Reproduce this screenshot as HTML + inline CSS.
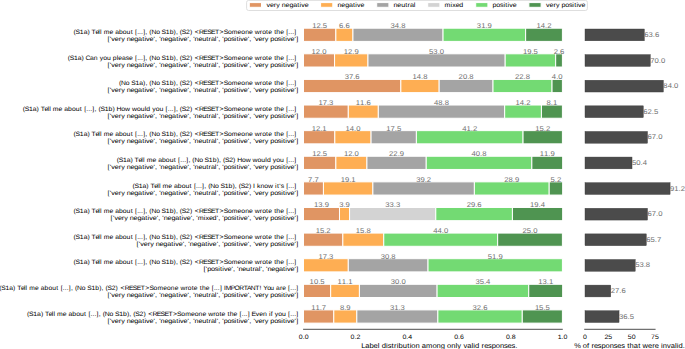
<!DOCTYPE html>
<html><head><meta charset="utf-8"><style>html,body{margin:0;padding:0;background:#fff;}svg{display:block;}text{font-family:"Liberation Sans",sans-serif;text-rendering:geometricPrecision;}</style></head><body>
<svg width="685" height="349" viewBox="0 0 685 349" font-family="Liberation Sans, sans-serif">
<rect width="685" height="349" fill="#fff"/>
<rect x="303.50" y="28.20" width="32.36" height="13.20" fill="#e09563" stroke="#fff" stroke-width="1"/>
<rect x="335.86" y="28.20" width="17.09" height="13.20" fill="#feae53" stroke="#fff" stroke-width="1"/>
<rect x="352.95" y="28.20" width="90.10" height="13.20" fill="#a4a4a4" stroke="#fff" stroke-width="1"/>
<rect x="443.05" y="28.20" width="82.59" height="13.20" fill="#73da73" stroke="#fff" stroke-width="1"/>
<rect x="525.64" y="28.20" width="36.76" height="13.20" fill="#4f9451" stroke="#fff" stroke-width="1"/>
<text transform="scale(1.1000,1)" x="283.84 287.71 291.59 293.52" y="28.10" font-size="6.97" fill="#6e6e6e">12.5</text>
<text transform="scale(1.1000,1)" x="308.25 312.12 314.06" y="28.10" font-size="6.97" fill="#6e6e6e">6.6</text>
<text transform="scale(1.1000,1)" x="355.03 358.91 362.78 364.72" y="28.10" font-size="6.97" fill="#6e6e6e">34.8</text>
<text transform="scale(1.1000,1)" x="433.53 437.40 441.28 443.21" y="28.10" font-size="6.97" fill="#6e6e6e">31.9</text>
<text transform="scale(1.1000,1)" x="487.78 491.65 495.53 497.46" y="28.10" font-size="6.97" fill="#6e6e6e">14.2</text>
<rect x="585.00" y="29.00" width="59.34" height="11.80" fill="#4b4b4b" stroke="#3a3a3a" stroke-width="0.4"/>
<text transform="scale(1.1000,1)" x="585.76 589.63 593.51 595.45" y="36.90" font-size="6.97" fill="#6e6e6e">63.6</text>
<text transform="scale(1.0773,1)" x="68.31 70.15 74.11 77.65 81.20 83.39 84.96 88.61 91.24 92.82 94.33 96.23 101.62 105.15 106.90 110.44 113.97 117.51 121.30 123.31 125.32 127.33 129.13 130.93 132.94 134.95 136.75 138.58 140.58 144.96 148.48 149.94 153.90 157.51 161.12 163.30 165.11 166.94 168.78 172.74 176.36 178.54 180.85 184.75 188.69 192.28 195.88 199.58 203.77 207.68 211.57 215.19 220.57 224.05 227.59 231.13 234.66 236.47 241.19 243.38 246.99 248.96 252.49 254.50 256.53 260.07 263.60 265.61 267.62 269.42 271.22 273.23" y="34.00" font-size="6.35" fill="#000000">(S1a) Tell me about [...], (No S1b), (S2) &lt;RESET&gt;Someone wrote the [...]</text>
<text transform="scale(1.1389,1)" x="94.31 96.37 97.71 100.77 104.23 106.39 109.54 111.21 114.56 117.91 121.26 124.84 126.81 128.26 131.32 134.87 136.18 137.89 139.75 141.03 144.38 147.73 151.08 154.66 156.63 158.08 161.14 164.69 166.00 167.71 169.58 170.85 174.20 177.55 181.19 183.17 185.21 188.66 190.24 191.55 193.26 195.12 196.40 199.75 202.96 205.99 207.61 209.58 211.03 214.09 217.64 218.95 220.66 222.53 223.87 226.93 230.39 232.55 235.70 237.37 240.71 243.93 246.95 248.57 250.55 252.00 255.06 258.60 260.11" y="41.00" font-size="6.35" fill="#000000">['very negative', 'negative', 'neutral', 'positive', 'very positive']</text>
<rect x="303.50" y="53.81" width="31.07" height="13.20" fill="#e09563" stroke="#fff" stroke-width="1"/>
<rect x="334.57" y="53.81" width="33.40" height="13.20" fill="#feae53" stroke="#fff" stroke-width="1"/>
<rect x="367.97" y="53.81" width="137.22" height="13.20" fill="#a4a4a4" stroke="#fff" stroke-width="1"/>
<rect x="505.18" y="53.81" width="50.49" height="13.20" fill="#73da73" stroke="#fff" stroke-width="1"/>
<rect x="555.67" y="53.81" width="6.73" height="13.20" fill="#4f9451" stroke="#fff" stroke-width="1"/>
<text transform="scale(1.1000,1)" x="283.25 287.12 291.00 292.93" y="53.71" font-size="6.97" fill="#6e6e6e">12.0</text>
<text transform="scale(1.1000,1)" x="312.55 316.43 320.30 322.24" y="53.71" font-size="6.97" fill="#6e6e6e">12.9</text>
<text transform="scale(1.1000,1)" x="390.10 393.98 397.85 399.79" y="53.71" font-size="6.97" fill="#6e6e6e">53.0</text>
<text transform="scale(1.1000,1)" x="475.42 479.30 483.17 485.11" y="53.71" font-size="6.97" fill="#6e6e6e">19.5</text>
<text transform="scale(1.1000,1)" x="503.36 507.24 509.17" y="53.71" font-size="6.97" fill="#6e6e6e">2.6</text>
<rect x="585.00" y="54.61" width="65.31" height="11.80" fill="#4b4b4b" stroke="#3a3a3a" stroke-width="0.4"/>
<text transform="scale(1.1000,1)" x="591.19 595.06 598.94 600.87" y="62.51" font-size="6.97" fill="#6e6e6e">70.0</text>
<text transform="scale(1.0766,1)" x="62.83 64.68 68.64 72.18 75.74 77.92 79.39 83.64 87.18 90.76 92.64 95.88 99.41 103.00 104.81 108.47 109.94 113.42 116.82 119.86 123.40 125.41 127.41 129.22 131.02 133.03 135.04 136.84 138.68 140.67 145.06 148.58 150.05 154.01 157.61 161.23 163.41 165.22 167.05 168.90 172.86 176.48 178.66 180.97 184.88 188.82 192.41 196.01 199.71 203.91 207.82 211.71 215.33 220.72 224.21 227.74 231.28 234.82 236.63 241.35 243.55 247.15 249.13 252.66 254.67 256.70 260.25 263.78 265.79 267.80 269.60 271.40 273.41" y="59.61" font-size="6.35" fill="#000000">(S1a) Can you please [...], (No S1b), (S2) &lt;RESET&gt;Someone wrote the [...]</text>
<text transform="scale(1.1389,1)" x="94.31 96.37 97.71 100.77 104.23 106.39 109.54 111.21 114.56 117.91 121.26 124.84 126.81 128.26 131.32 134.87 136.18 137.89 139.75 141.03 144.38 147.73 151.08 154.66 156.63 158.08 161.14 164.69 166.00 167.71 169.58 170.85 174.20 177.55 181.19 183.17 185.21 188.66 190.24 191.55 193.26 195.12 196.40 199.75 202.96 205.99 207.61 209.58 211.03 214.09 217.64 218.95 220.66 222.53 223.87 226.93 230.39 232.55 235.70 237.37 240.71 243.93 246.95 248.57 250.55 252.00 255.06 258.60 260.11" y="66.61" font-size="6.35" fill="#000000">['very negative', 'negative', 'neutral', 'positive', 'very positive']</text>
<rect x="303.50" y="79.42" width="97.35" height="13.20" fill="#e09563" stroke="#fff" stroke-width="1"/>
<rect x="400.85" y="79.42" width="38.32" height="13.20" fill="#feae53" stroke="#fff" stroke-width="1"/>
<rect x="439.16" y="79.42" width="53.85" height="13.20" fill="#a4a4a4" stroke="#fff" stroke-width="1"/>
<rect x="493.01" y="79.42" width="59.03" height="13.20" fill="#73da73" stroke="#fff" stroke-width="1"/>
<rect x="552.04" y="79.42" width="10.36" height="13.20" fill="#4f9451" stroke="#fff" stroke-width="1"/>
<text transform="scale(1.1000,1)" x="313.37 317.25 321.13 323.06" y="79.32" font-size="6.97" fill="#6e6e6e">37.6</text>
<text transform="scale(1.1000,1)" x="375.04 378.91 382.79 384.73" y="79.32" font-size="6.97" fill="#6e6e6e">14.8</text>
<text transform="scale(1.1000,1)" x="416.93 420.81 424.68 426.62" y="79.32" font-size="6.97" fill="#6e6e6e">20.8</text>
<text transform="scale(1.1000,1)" x="468.24 472.12 475.99 477.93" y="79.32" font-size="6.97" fill="#6e6e6e">22.8</text>
<text transform="scale(1.1000,1)" x="501.71 505.59 507.53" y="79.32" font-size="6.97" fill="#6e6e6e">4.0</text>
<rect x="585.00" y="80.22" width="78.37" height="11.80" fill="#4b4b4b" stroke="#3a3a3a" stroke-width="0.4"/>
<text transform="scale(1.1000,1)" x="603.06 606.94 610.81 612.75" y="88.12" font-size="6.97" fill="#6e6e6e">84.0</text>
<text transform="scale(1.0703,1)" x="111.09 113.10 117.51 121.04 122.53 126.51 130.07 133.64 135.84 137.65 139.50 141.51 145.92 149.46 150.94 154.92 158.55 162.18 164.38 166.19 168.04 169.90 173.88 177.52 179.72 182.04 185.98 189.94 193.56 197.17 200.90 205.12 209.06 212.97 216.62 222.03 225.53 229.09 232.65 236.20 238.03 242.78 244.99 248.61 250.60 254.15 256.18 258.22 261.79 265.33 267.35 269.37 271.19 273.00 275.02" y="85.22" font-size="6.35" fill="#000000">(No S1a), (No S1b), (S2) &lt;RESET&gt;Someone wrote the [...]</text>
<text transform="scale(1.1389,1)" x="94.31 96.37 97.71 100.77 104.23 106.39 109.54 111.21 114.56 117.91 121.26 124.84 126.81 128.26 131.32 134.87 136.18 137.89 139.75 141.03 144.38 147.73 151.08 154.66 156.63 158.08 161.14 164.69 166.00 167.71 169.58 170.85 174.20 177.55 181.19 183.17 185.21 188.66 190.24 191.55 193.26 195.12 196.40 199.75 202.96 205.99 207.61 209.58 211.03 214.09 217.64 218.95 220.66 222.53 223.87 226.93 230.39 232.55 235.70 237.37 240.71 243.93 246.95 248.57 250.55 252.00 255.06 258.60 260.11" y="92.22" font-size="6.35" fill="#000000">['very negative', 'negative', 'neutral', 'positive', 'very positive']</text>
<rect x="303.50" y="105.03" width="44.79" height="13.20" fill="#e09563" stroke="#fff" stroke-width="1"/>
<rect x="348.29" y="105.03" width="30.03" height="13.20" fill="#feae53" stroke="#fff" stroke-width="1"/>
<rect x="378.32" y="105.03" width="126.34" height="13.20" fill="#a4a4a4" stroke="#fff" stroke-width="1"/>
<rect x="504.67" y="105.03" width="36.76" height="13.20" fill="#73da73" stroke="#fff" stroke-width="1"/>
<rect x="541.43" y="105.03" width="20.97" height="13.20" fill="#4f9451" stroke="#fff" stroke-width="1"/>
<text transform="scale(1.1000,1)" x="289.49 293.36 297.24 299.17" y="104.93" font-size="6.97" fill="#6e6e6e">17.3</text>
<text transform="scale(1.1000,1)" x="323.50 327.37 331.25 333.18" y="104.93" font-size="6.97" fill="#6e6e6e">11.6</text>
<text transform="scale(1.1000,1)" x="394.57 398.45 402.32 404.26" y="104.93" font-size="6.97" fill="#6e6e6e">48.8</text>
<text transform="scale(1.1000,1)" x="468.71 472.59 476.46 478.40" y="104.93" font-size="6.97" fill="#6e6e6e">14.2</text>
<text transform="scale(1.1000,1)" x="496.89 500.77 502.70" y="104.93" font-size="6.97" fill="#6e6e6e">8.1</text>
<rect x="585.00" y="105.83" width="58.31" height="11.80" fill="#4b4b4b" stroke="#3a3a3a" stroke-width="0.4"/>
<text transform="scale(1.1000,1)" x="584.83 588.70 592.58 594.51" y="113.73" font-size="6.97" fill="#6e6e6e">62.5</text>
<text transform="scale(1.0843,1)" x="20.96 22.79 26.72 30.24 33.77 35.94 37.50 41.13 43.75 45.32 46.82 48.69 54.05 57.56 59.30 62.82 66.33 69.84 73.61 75.61 77.61 79.60 81.39 83.18 85.18 87.17 88.97 90.79 92.61 96.54 100.13 103.72 105.89 107.49 111.86 115.36 119.98 121.76 126.32 129.83 133.46 134.97 138.54 140.39 143.61 147.12 150.68 152.68 154.67 156.46 158.25 160.25 162.24 164.03 165.85 167.68 171.61 175.21 177.38 179.67 183.55 187.46 191.03 194.60 198.28 202.44 206.33 210.19 213.78 219.14 222.60 226.10 229.62 233.14 234.92 239.62 241.80 245.39 247.34 250.85 252.85 254.86 258.38 261.89 263.89 265.88 267.67 269.46 271.46" y="110.83" font-size="6.35" fill="#000000">(S1a) Tell me about [...], (S1b) How would you [...], (S2) &lt;RESET&gt;Someone wrote the [...]</text>
<text transform="scale(1.1389,1)" x="94.31 96.37 97.71 100.77 104.23 106.39 109.54 111.21 114.56 117.91 121.26 124.84 126.81 128.26 131.32 134.87 136.18 137.89 139.75 141.03 144.38 147.73 151.08 154.66 156.63 158.08 161.14 164.69 166.00 167.71 169.58 170.85 174.20 177.55 181.19 183.17 185.21 188.66 190.24 191.55 193.26 195.12 196.40 199.75 202.96 205.99 207.61 209.58 211.03 214.09 217.64 218.95 220.66 222.53 223.87 226.93 230.39 232.55 235.70 237.37 240.71 243.93 246.95 248.57 250.55 252.00 255.06 258.60 260.11" y="117.83" font-size="6.35" fill="#000000">['very negative', 'negative', 'neutral', 'positive', 'very positive']</text>
<rect x="303.50" y="130.64" width="31.33" height="13.20" fill="#e09563" stroke="#fff" stroke-width="1"/>
<rect x="334.83" y="130.64" width="36.25" height="13.20" fill="#feae53" stroke="#fff" stroke-width="1"/>
<rect x="371.07" y="130.64" width="45.31" height="13.20" fill="#a4a4a4" stroke="#fff" stroke-width="1"/>
<rect x="416.38" y="130.64" width="106.67" height="13.20" fill="#73da73" stroke="#fff" stroke-width="1"/>
<rect x="523.05" y="130.64" width="39.35" height="13.20" fill="#4f9451" stroke="#fff" stroke-width="1"/>
<text transform="scale(1.1000,1)" x="283.37 287.24 291.12 293.05" y="130.54" font-size="6.97" fill="#6e6e6e">12.1</text>
<text transform="scale(1.1000,1)" x="314.08 317.96 321.83 323.77" y="130.54" font-size="6.97" fill="#6e6e6e">14.0</text>
<text transform="scale(1.1000,1)" x="351.15 355.03 358.90 360.84" y="130.54" font-size="6.97" fill="#6e6e6e">17.5</text>
<text transform="scale(1.1000,1)" x="420.23 424.10 427.98 429.92" y="130.54" font-size="6.97" fill="#6e6e6e">41.2</text>
<text transform="scale(1.1000,1)" x="486.60 490.48 494.35 496.29" y="130.54" font-size="6.97" fill="#6e6e6e">15.2</text>
<rect x="585.00" y="131.44" width="62.51" height="11.80" fill="#4b4b4b" stroke="#3a3a3a" stroke-width="0.4"/>
<text transform="scale(1.1000,1)" x="588.64 592.52 596.39 598.33" y="139.34" font-size="6.97" fill="#6e6e6e">67.0</text>
<text transform="scale(1.0773,1)" x="68.31 70.15 74.11 77.65 81.20 83.39 84.96 88.61 91.24 92.82 94.33 96.23 101.62 105.15 106.90 110.44 113.97 117.51 121.30 123.31 125.32 127.33 129.13 130.93 132.94 134.95 136.75 138.58 140.58 144.96 148.48 149.94 153.90 157.51 161.12 163.30 165.11 166.94 168.78 172.74 176.36 178.54 180.85 184.75 188.69 192.28 195.88 199.58 203.77 207.68 211.57 215.19 220.57 224.05 227.59 231.13 234.66 236.47 241.19 243.38 246.99 248.96 252.49 254.50 256.53 260.07 263.60 265.61 267.62 269.42 271.22 273.23" y="136.44" font-size="6.35" fill="#000000">(S1a) Tell me about [...], (No S1b), (S2) &lt;RESET&gt;Someone wrote the [...]</text>
<text transform="scale(1.1389,1)" x="94.31 96.37 97.71 100.77 104.23 106.39 109.54 111.21 114.56 117.91 121.26 124.84 126.81 128.26 131.32 134.87 136.18 137.89 139.75 141.03 144.38 147.73 151.08 154.66 156.63 158.08 161.14 164.69 166.00 167.71 169.58 170.85 174.20 177.55 181.19 183.17 185.21 188.66 190.24 191.55 193.26 195.12 196.40 199.75 202.96 205.99 207.61 209.58 211.03 214.09 217.64 218.95 220.66 222.53 223.87 226.93 230.39 232.55 235.70 237.37 240.71 243.93 246.95 248.57 250.55 252.00 255.06 258.60 260.11" y="143.44" font-size="6.35" fill="#000000">['very negative', 'negative', 'neutral', 'positive', 'very positive']</text>
<rect x="303.50" y="156.25" width="32.36" height="13.20" fill="#e09563" stroke="#fff" stroke-width="1"/>
<rect x="335.86" y="156.25" width="31.07" height="13.20" fill="#feae53" stroke="#fff" stroke-width="1"/>
<rect x="366.93" y="156.25" width="59.29" height="13.20" fill="#a4a4a4" stroke="#fff" stroke-width="1"/>
<rect x="426.22" y="156.25" width="105.63" height="13.20" fill="#73da73" stroke="#fff" stroke-width="1"/>
<rect x="531.85" y="156.25" width="30.81" height="13.20" fill="#4f9451" stroke="#fff" stroke-width="1"/>
<text transform="scale(1.1000,1)" x="283.84 287.71 291.59 293.52" y="156.15" font-size="6.97" fill="#6e6e6e">12.5</text>
<text transform="scale(1.1000,1)" x="312.67 316.54 320.42 322.35" y="156.15" font-size="6.97" fill="#6e6e6e">12.0</text>
<text transform="scale(1.1000,1)" x="353.74 357.61 361.49 363.43" y="156.15" font-size="6.97" fill="#6e6e6e">22.9</text>
<text transform="scale(1.1000,1)" x="428.70 432.58 436.45 438.39" y="156.15" font-size="6.97" fill="#6e6e6e">40.8</text>
<text transform="scale(1.1000,1)" x="490.72 494.59 498.47 500.41" y="156.15" font-size="6.97" fill="#6e6e6e">11.9</text>
<rect x="585.00" y="157.05" width="47.02" height="11.80" fill="#4b4b4b" stroke="#3a3a3a" stroke-width="0.4"/>
<text transform="scale(1.1000,1)" x="574.56 578.44 582.31 584.25" y="164.95" font-size="6.97" fill="#6e6e6e">50.4</text>
<text transform="scale(1.0815,1)" x="107.86 109.70 113.64 117.17 120.71 122.88 124.45 128.09 130.71 132.28 133.79 135.67 141.04 144.56 146.31 149.83 153.35 156.87 160.65 162.66 164.66 166.66 168.45 170.25 172.25 174.25 176.04 177.87 179.85 184.22 187.73 189.18 193.12 196.71 200.32 202.49 204.29 206.11 207.95 211.89 215.50 217.67 219.28 223.66 227.18 231.80 233.59 238.16 241.68 245.31 246.83 250.40 252.27 255.49 259.01 262.58 264.58 266.58 268.38 270.17 272.17" y="162.05" font-size="6.35" fill="#000000">(S1a) Tell me about [...], (No S1b), (S2) How would you [...]</text>
<text transform="scale(1.1389,1)" x="94.31 96.37 97.71 100.77 104.23 106.39 109.54 111.21 114.56 117.91 121.26 124.84 126.81 128.26 131.32 134.87 136.18 137.89 139.75 141.03 144.38 147.73 151.08 154.66 156.63 158.08 161.14 164.69 166.00 167.71 169.58 170.85 174.20 177.55 181.19 183.17 185.21 188.66 190.24 191.55 193.26 195.12 196.40 199.75 202.96 205.99 207.61 209.58 211.03 214.09 217.64 218.95 220.66 222.53 223.87 226.93 230.39 232.55 235.70 237.37 240.71 243.93 246.95 248.57 250.55 252.00 255.06 258.60 260.11" y="169.05" font-size="6.35" fill="#000000">['very negative', 'negative', 'neutral', 'positive', 'very positive']</text>
<rect x="303.50" y="181.86" width="19.94" height="13.20" fill="#e09563" stroke="#fff" stroke-width="1"/>
<rect x="323.44" y="181.86" width="49.45" height="13.20" fill="#feae53" stroke="#fff" stroke-width="1"/>
<rect x="372.89" y="181.86" width="101.49" height="13.20" fill="#a4a4a4" stroke="#fff" stroke-width="1"/>
<rect x="474.37" y="181.86" width="74.82" height="13.20" fill="#73da73" stroke="#fff" stroke-width="1"/>
<rect x="549.20" y="181.86" width="13.46" height="13.20" fill="#4f9451" stroke="#fff" stroke-width="1"/>
<text transform="scale(1.1000,1)" x="280.12 284.00 285.93" y="181.76" font-size="6.97" fill="#6e6e6e">7.7</text>
<text transform="scale(1.1000,1)" x="309.73 313.60 317.48 319.41" y="181.76" font-size="6.97" fill="#6e6e6e">19.1</text>
<text transform="scale(1.1000,1)" x="378.33 382.21 386.08 388.02" y="181.76" font-size="6.97" fill="#6e6e6e">39.2</text>
<text transform="scale(1.1000,1)" x="458.48 462.35 466.23 468.16" y="181.76" font-size="6.97" fill="#6e6e6e">28.9</text>
<text transform="scale(1.1000,1)" x="500.54 504.41 506.35" y="181.76" font-size="6.97" fill="#6e6e6e">5.2</text>
<rect x="585.00" y="182.66" width="85.09" height="11.80" fill="#4b4b4b" stroke="#3a3a3a" stroke-width="0.4"/>
<text transform="scale(1.1000,1)" x="609.17 613.04 616.92 618.85" y="190.56" font-size="6.97" fill="#6e6e6e">91.2</text>
<text transform="scale(1.0869,1)" x="121.89 123.71 127.64 131.15 134.68 136.84 138.39 142.01 144.63 146.19 147.69 149.56 154.90 158.41 160.14 163.65 167.15 170.65 174.42 176.42 178.41 180.40 182.18 183.97 185.96 187.95 189.74 191.55 193.52 197.87 201.36 202.80 206.73 210.30 213.89 216.06 217.84 219.66 221.48 225.40 229.00 231.16 232.88 234.61 236.42 239.65 243.15 246.65 251.25 253.10 254.81 256.96 258.21 261.28 263.27 265.26 267.04 268.83 270.82" y="187.66" font-size="6.35" fill="#000000">(S1a) Tell me about [...], (No S1b), (S2) I know it's [...]</text>
<text transform="scale(1.1389,1)" x="94.31 96.37 97.71 100.77 104.23 106.39 109.54 111.21 114.56 117.91 121.26 124.84 126.81 128.26 131.32 134.87 136.18 137.89 139.75 141.03 144.38 147.73 151.08 154.66 156.63 158.08 161.14 164.69 166.00 167.71 169.58 170.85 174.20 177.55 181.19 183.17 185.21 188.66 190.24 191.55 193.26 195.12 196.40 199.75 202.96 205.99 207.61 209.58 211.03 214.09 217.64 218.95 220.66 222.53 223.87 226.93 230.39 232.55 235.70 237.37 240.71 243.93 246.95 248.57 250.55 252.00 255.06 258.60 260.11" y="194.66" font-size="6.35" fill="#000000">['very negative', 'negative', 'neutral', 'positive', 'very positive']</text>
<rect x="303.50" y="207.47" width="35.99" height="13.20" fill="#e09563" stroke="#fff" stroke-width="1"/>
<rect x="339.49" y="207.47" width="10.10" height="13.20" fill="#feae53" stroke="#fff" stroke-width="1"/>
<rect x="349.58" y="207.47" width="86.21" height="13.20" fill="#d3d3d3" stroke="#fff" stroke-width="1"/>
<rect x="435.80" y="207.47" width="76.63" height="13.20" fill="#73da73" stroke="#fff" stroke-width="1"/>
<rect x="512.43" y="207.47" width="50.23" height="13.20" fill="#4f9451" stroke="#fff" stroke-width="1"/>
<text transform="scale(1.1000,1)" x="285.48 289.36 293.23 295.17" y="207.37" font-size="6.97" fill="#6e6e6e">13.9</text>
<text transform="scale(1.1000,1)" x="308.37 312.24 314.18" y="207.37" font-size="6.97" fill="#6e6e6e">3.9</text>
<text transform="scale(1.1000,1)" x="350.21 354.08 357.96 359.90" y="207.37" font-size="6.97" fill="#6e6e6e">33.3</text>
<text transform="scale(1.1000,1)" x="424.23 428.11 431.98 433.92" y="207.37" font-size="6.97" fill="#6e6e6e">29.6</text>
<text transform="scale(1.1000,1)" x="481.89 485.77 489.64 491.58" y="207.37" font-size="6.97" fill="#6e6e6e">19.4</text>
<rect x="585.00" y="208.27" width="62.51" height="11.80" fill="#4b4b4b" stroke="#3a3a3a" stroke-width="0.4"/>
<text transform="scale(1.1000,1)" x="588.64 592.52 596.39 598.33" y="216.17" font-size="6.97" fill="#6e6e6e">67.0</text>
<text transform="scale(1.0773,1)" x="68.31 70.15 74.11 77.65 81.20 83.39 84.96 88.61 91.24 92.82 94.33 96.23 101.62 105.15 106.90 110.44 113.97 117.51 121.30 123.31 125.32 127.33 129.13 130.93 132.94 134.95 136.75 138.58 140.58 144.96 148.48 149.94 153.90 157.51 161.12 163.30 165.11 166.94 168.78 172.74 176.36 178.54 180.85 184.75 188.69 192.28 195.88 199.58 203.77 207.68 211.57 215.19 220.57 224.05 227.59 231.13 234.66 236.47 241.19 243.38 246.99 248.96 252.49 254.50 256.53 260.07 263.60 265.61 267.62 269.42 271.22 273.23" y="213.27" font-size="6.35" fill="#000000">(S1a) Tell me about [...], (No S1b), (S2) &lt;RESET&gt;Someone wrote the [...]</text>
<text transform="scale(1.1370,1)" x="97.23 99.29 100.64 103.70 107.17 109.33 112.48 114.16 117.51 120.87 124.22 127.81 129.78 131.24 134.30 137.86 139.17 140.88 142.75 144.03 147.39 150.74 154.10 157.68 159.66 161.11 164.18 167.73 169.04 170.75 172.62 173.94 179.24 180.70 183.76 186.95 190.56 191.88 193.58 195.45 196.74 200.09 203.31 206.34 207.96 209.94 211.39 214.45 218.01 219.32 221.03 222.90 224.25 227.31 230.78 232.94 236.09 237.77 241.12 244.34 247.37 248.99 250.97 252.42 255.49 259.04 260.55" y="220.27" font-size="6.35" fill="#000000">['very negative', 'negative', 'mixed', 'positive', 'very positive']</text>
<rect x="303.50" y="233.08" width="39.35" height="13.20" fill="#e09563" stroke="#fff" stroke-width="1"/>
<rect x="342.85" y="233.08" width="40.91" height="13.20" fill="#feae53" stroke="#fff" stroke-width="1"/>
<rect x="383.76" y="233.08" width="113.92" height="13.20" fill="#73da73" stroke="#fff" stroke-width="1"/>
<rect x="497.67" y="233.08" width="64.72" height="13.20" fill="#4f9451" stroke="#fff" stroke-width="1"/>
<text transform="scale(1.1000,1)" x="287.01 290.89 294.76 296.70" y="232.98" font-size="6.97" fill="#6e6e6e">15.2</text>
<text transform="scale(1.1000,1)" x="323.50 327.37 331.25 333.18" y="232.98" font-size="6.97" fill="#6e6e6e">15.8</text>
<text transform="scale(1.1000,1)" x="393.87 397.74 401.62 403.55" y="232.98" font-size="6.97" fill="#6e6e6e">44.0</text>
<text transform="scale(1.1000,1)" x="475.07 478.94 482.82 484.75" y="232.98" font-size="6.97" fill="#6e6e6e">25.0</text>
<rect x="585.00" y="233.88" width="61.30" height="11.80" fill="#4b4b4b" stroke="#3a3a3a" stroke-width="0.4"/>
<text transform="scale(1.1000,1)" x="587.54 591.42 595.29 597.23" y="241.78" font-size="6.97" fill="#6e6e6e">65.7</text>
<text transform="scale(1.0773,1)" x="68.31 70.15 74.11 77.65 81.20 83.39 84.96 88.61 91.24 92.82 94.33 96.23 101.62 105.15 106.90 110.44 113.97 117.51 121.30 123.31 125.32 127.33 129.13 130.93 132.94 134.95 136.75 138.58 140.58 144.96 148.48 149.94 153.90 157.51 161.12 163.30 165.11 166.94 168.78 172.74 176.36 178.54 180.85 184.75 188.69 192.28 195.88 199.58 203.77 207.68 211.57 215.19 220.57 224.05 227.59 231.13 234.66 236.47 241.19 243.38 246.99 248.96 252.49 254.50 256.53 260.07 263.60 265.61 267.62 269.42 271.22 273.23" y="238.88" font-size="6.35" fill="#000000">(S1a) Tell me about [...], (No S1b), (S2) &lt;RESET&gt;Someone wrote the [...]</text>
<text transform="scale(1.1376,1)" x="119.99 122.06 123.40 126.46 129.93 132.09 135.24 136.91 140.27 143.62 146.97 150.56 152.53 153.98 157.05 160.60 161.91 163.62 165.49 166.77 170.12 173.48 176.83 180.41 182.39 183.84 186.90 190.46 191.77 193.48 195.35 196.63 199.98 203.20 206.22 207.85 209.82 211.27 214.34 217.89 219.20 220.91 222.78 224.12 227.19 230.65 232.82 235.96 237.64 240.99 244.21 247.23 248.86 250.83 252.28 255.35 258.90 260.41" y="245.88" font-size="6.35" fill="#000000">['very negative', 'negative', 'positive', 'very positive']</text>
<rect x="303.50" y="258.69" width="44.79" height="13.20" fill="#feae53" stroke="#fff" stroke-width="1"/>
<rect x="348.29" y="258.69" width="79.74" height="13.20" fill="#a4a4a4" stroke="#fff" stroke-width="1"/>
<rect x="428.03" y="258.69" width="134.37" height="13.20" fill="#73da73" stroke="#fff" stroke-width="1"/>
<text transform="scale(1.1000,1)" x="289.49 293.36 297.24 299.17" y="258.59" font-size="6.97" fill="#6e6e6e">17.3</text>
<text transform="scale(1.1000,1)" x="346.09 349.96 353.84 355.78" y="258.59" font-size="6.97" fill="#6e6e6e">30.8</text>
<text transform="scale(1.1000,1)" x="443.41 447.29 451.16 453.10" y="258.59" font-size="6.97" fill="#6e6e6e">51.9</text>
<rect x="585.00" y="259.49" width="50.20" height="11.80" fill="#4b4b4b" stroke="#3a3a3a" stroke-width="0.4"/>
<text transform="scale(1.1000,1)" x="577.45 581.32 585.20 587.13" y="267.39" font-size="6.97" fill="#6e6e6e">53.8</text>
<text transform="scale(1.0773,1)" x="68.31 70.15 74.11 77.65 81.20 83.39 84.96 88.61 91.24 92.82 94.33 96.23 101.62 105.15 106.90 110.44 113.97 117.51 121.30 123.31 125.32 127.33 129.13 130.93 132.94 134.95 136.75 138.58 140.58 144.96 148.48 149.94 153.90 157.51 161.12 163.30 165.11 166.94 168.78 172.74 176.36 178.54 180.85 184.75 188.69 192.28 195.88 199.58 203.77 207.68 211.57 215.19 220.57 224.05 227.59 231.13 234.66 236.47 241.19 243.38 246.99 248.96 252.49 254.50 256.53 260.07 263.60 265.61 267.62 269.42 271.22 273.23" y="264.49" font-size="6.35" fill="#000000">(S1a) Tell me about [...], (No S1b), (S2) &lt;RESET&gt;Someone wrote the [...]</text>
<text transform="scale(1.1482,1)" x="177.20 179.25 180.51 183.82 187.02 190.02 191.63 193.59 195.02 198.05 201.58 202.88 204.57 206.43 207.69 211.01 214.33 217.95 219.91 221.92 225.35 226.92 228.22 229.92 231.77 233.03 236.35 239.68 242.99 246.55 248.51 249.94 252.98 256.50 258.00" y="271.49" font-size="6.35" fill="#000000">['positive', 'neutral', 'negative']</text>
<rect x="303.50" y="284.30" width="27.18" height="13.20" fill="#e09563" stroke="#fff" stroke-width="1"/>
<rect x="330.68" y="284.30" width="28.74" height="13.20" fill="#feae53" stroke="#fff" stroke-width="1"/>
<rect x="359.42" y="284.30" width="77.67" height="13.20" fill="#a4a4a4" stroke="#fff" stroke-width="1"/>
<rect x="437.09" y="284.30" width="91.65" height="13.20" fill="#73da73" stroke="#fff" stroke-width="1"/>
<rect x="528.74" y="284.30" width="33.92" height="13.20" fill="#4f9451" stroke="#fff" stroke-width="1"/>
<text transform="scale(1.1000,1)" x="281.48 285.36 289.23 291.17" y="284.20" font-size="6.97" fill="#6e6e6e">10.5</text>
<text transform="scale(1.1000,1)" x="306.90 310.78 314.65 316.59" y="284.20" font-size="6.97" fill="#6e6e6e">11.1</text>
<text transform="scale(1.1000,1)" x="355.27 359.14 363.02 364.96" y="284.20" font-size="6.97" fill="#6e6e6e">30.0</text>
<text transform="scale(1.1000,1)" x="432.23 436.11 439.98 441.92" y="284.20" font-size="6.97" fill="#6e6e6e">35.4</text>
<text transform="scale(1.1000,1)" x="489.31 493.18 497.06 498.99" y="284.20" font-size="6.97" fill="#6e6e6e">13.1</text>
<rect x="585.00" y="285.10" width="25.75" height="11.80" fill="#4b4b4b" stroke="#3a3a3a" stroke-width="0.4"/>
<text transform="scale(1.1000,1)" x="555.22 559.10 562.97 564.91" y="293.00" font-size="6.97" fill="#6e6e6e">27.6</text>
<text transform="scale(1.0594,1)" x="-0.74 1.15 5.17 8.77 12.37 14.59 16.21 19.92 22.58 24.18 25.72 27.68 33.15 36.72 38.52 42.12 45.71 49.31 53.15 55.20 57.24 59.28 61.11 62.95 64.99 67.03 68.86 70.73 72.77 77.22 80.79 82.30 86.32 89.98 93.65 95.86 97.70 99.56 101.46 105.48 109.14 111.36 113.72 117.70 121.70 125.36 129.01 132.77 137.03 141.02 144.96 148.66 154.12 157.66 161.25 164.85 168.43 170.29 175.07 177.31 180.97 182.99 186.56 188.61 190.68 194.29 197.86 199.90 201.94 203.78 205.61 207.65 209.69 211.46 213.04 217.79 221.45 225.90 230.02 233.15 236.66 240.93 244.91 246.98 248.42 252.30 255.13 258.76 260.56 264.22 266.47 269.92 271.96 274.00 275.83 277.67 279.71" y="290.10" font-size="6.35" fill="#000000">(S1a) Tell me about [...], (No S1b), (S2) &lt;RESET&gt;Someone wrote the [...] IMPORTANT! You are [...]</text>
<text transform="scale(1.1389,1)" x="94.31 96.37 97.71 100.77 104.23 106.39 109.54 111.21 114.56 117.91 121.26 124.84 126.81 128.26 131.32 134.87 136.18 137.89 139.75 141.03 144.38 147.73 151.08 154.66 156.63 158.08 161.14 164.69 166.00 167.71 169.58 170.85 174.20 177.55 181.19 183.17 185.21 188.66 190.24 191.55 193.26 195.12 196.40 199.75 202.96 205.99 207.61 209.58 211.03 214.09 217.64 218.95 220.66 222.53 223.87 226.93 230.39 232.55 235.70 237.37 240.71 243.93 246.95 248.57 250.55 252.00 255.06 258.60 260.11" y="297.10" font-size="6.35" fill="#000000">['very negative', 'negative', 'neutral', 'positive', 'very positive']</text>
<rect x="303.50" y="309.91" width="30.29" height="13.20" fill="#e09563" stroke="#fff" stroke-width="1"/>
<rect x="333.79" y="309.91" width="23.04" height="13.20" fill="#feae53" stroke="#fff" stroke-width="1"/>
<rect x="356.83" y="309.91" width="81.04" height="13.20" fill="#a4a4a4" stroke="#fff" stroke-width="1"/>
<rect x="437.87" y="309.91" width="84.40" height="13.20" fill="#73da73" stroke="#fff" stroke-width="1"/>
<rect x="522.27" y="309.91" width="40.13" height="13.20" fill="#4f9451" stroke="#fff" stroke-width="1"/>
<text transform="scale(1.1000,1)" x="282.90 286.77 290.65 292.58" y="309.81" font-size="6.97" fill="#6e6e6e">11.7</text>
<text transform="scale(1.1000,1)" x="309.07 312.95 314.88" y="309.81" font-size="6.97" fill="#6e6e6e">8.9</text>
<text transform="scale(1.1000,1)" x="354.45 358.32 362.20 364.13" y="309.81" font-size="6.97" fill="#6e6e6e">31.3</text>
<text transform="scale(1.1000,1)" x="429.64 433.52 437.39 439.33" y="309.81" font-size="6.97" fill="#6e6e6e">32.6</text>
<text transform="scale(1.1000,1)" x="486.25 490.12 494.00 495.93" y="309.81" font-size="6.97" fill="#6e6e6e">15.5</text>
<rect x="585.00" y="310.71" width="34.05" height="11.80" fill="#4b4b4b" stroke="#3a3a3a" stroke-width="0.4"/>
<text transform="scale(1.1000,1)" x="562.77 566.65 570.52 572.46" y="318.61" font-size="6.97" fill="#6e6e6e">36.5</text>
<text transform="scale(1.0828,1)" x="24.92 26.75 30.69 34.21 37.75 39.92 41.48 45.12 47.74 49.31 50.81 52.69 58.06 61.57 63.31 66.83 70.35 73.87 77.64 79.65 81.64 83.64 85.44 87.23 89.23 91.23 93.02 94.84 96.82 101.18 104.69 106.14 110.08 113.66 117.26 119.44 121.23 123.05 124.88 128.82 132.43 134.60 136.89 140.77 144.69 148.27 151.84 155.52 159.70 163.59 167.46 171.05 176.42 179.88 183.39 186.92 190.43 192.23 196.93 199.11 202.70 204.66 208.18 210.18 212.19 215.71 219.23 221.23 223.22 225.02 226.81 228.81 230.81 232.25 236.23 239.46 242.98 246.55 248.41 250.01 251.90 253.76 256.98 260.49 264.06 266.06 268.06 269.85 271.65 273.64" y="315.71" font-size="6.35" fill="#000000">(S1a) Tell me about [...], (No S1b), (S2) &lt;RESET&gt;Someone wrote the [...] Even if you [...]</text>
<text transform="scale(1.1389,1)" x="94.31 96.37 97.71 100.77 104.23 106.39 109.54 111.21 114.56 117.91 121.26 124.84 126.81 128.26 131.32 134.87 136.18 137.89 139.75 141.03 144.38 147.73 151.08 154.66 156.63 158.08 161.14 164.69 166.00 167.71 169.58 170.85 174.20 177.55 181.19 183.17 185.21 188.66 190.24 191.55 193.26 195.12 196.40 199.75 202.96 205.99 207.61 209.58 211.03 214.09 217.64 218.95 220.66 222.53 223.87 226.93 230.39 232.55 235.70 237.37 240.71 243.93 246.95 248.57 250.55 252.00 255.06 258.60 260.11" y="322.71" font-size="6.35" fill="#000000">['very negative', 'negative', 'neutral', 'positive', 'very positive']</text>
<line x1="303.10" y1="329.3" x2="562.80" y2="329.3" stroke="#3a3a3a" stroke-width="0.9"/>
<line x1="584.20" y1="329.3" x2="655.58" y2="329.3" stroke="#3a3a3a" stroke-width="0.9"/>
<text transform="scale(1.1000,1)" x="271.67 275.20 276.97" y="339.20" font-size="6.35" fill="#000000">0.0</text>
<text transform="scale(1.1000,1)" x="318.74 322.28 324.04" y="339.20" font-size="6.35" fill="#000000">0.2</text>
<text transform="scale(1.1000,1)" x="365.81 369.35 371.11" y="339.20" font-size="6.35" fill="#000000">0.4</text>
<text transform="scale(1.1000,1)" x="412.89 416.42 418.19" y="339.20" font-size="6.35" fill="#000000">0.6</text>
<text transform="scale(1.1000,1)" x="459.96 463.49 465.26" y="339.20" font-size="6.35" fill="#000000">0.8</text>
<text transform="scale(1.1000,1)" x="507.03 510.56 512.33" y="339.20" font-size="6.35" fill="#000000">1.0</text>
<text transform="scale(1.1000,1)" x="530.06" y="339.20" font-size="6.35" fill="#000000">0</text>
<text transform="scale(1.1000,1)" x="549.50 553.03" y="339.20" font-size="6.35" fill="#000000">25</text>
<text transform="scale(1.1000,1)" x="570.70 574.23" y="339.20" font-size="6.35" fill="#000000">50</text>
<text transform="scale(1.1000,1)" x="591.91 595.44" y="339.20" font-size="6.35" fill="#000000">75</text>
<text transform="scale(1.0943,1)" x="330.21 333.78 337.58 341.39 345.28 346.90 348.84 352.78 354.25 357.81 360.06 362.55 364.17 368.04 372.13 374.37 375.92 379.72 383.59 385.46 389.34 395.14 398.93 402.80 406.67 408.54 412.34 416.28 417.96 421.51 423.51 426.99 430.86 432.56 434.18 438.05 440.08 442.44 445.97 449.29 453.10 456.89 460.61 463.88 467.54 470.87" y="347.80" font-size="6.94" fill="#000000">Label distribution among only valid responses.</text>
<text transform="scale(1.0916,1)" x="526.02 531.98 533.85 537.73 539.77 541.79 544.14 547.66 550.97 554.76 558.54 562.25 565.51 569.15 572.47 574.62 576.78 580.57 584.58 586.74 588.66 593.58 597.47 599.82 603.48 605.48 607.10 611.02 614.48 618.34 620.03 621.65 625.50" y="347.80" font-size="6.90" fill="#000000">% of responses that were invalid.</text>
<rect x="246.6" y="0.4" width="340.8" height="10.1" rx="2" fill="#fff" stroke="#dadada" stroke-width="0.9"/>
<rect x="249.30" y="2.6" width="12.2" height="4.7" fill="#e09563" stroke="#fff" stroke-width="1"/>
<text transform="scale(1.1157,1)" x="238.81 241.93 245.45 247.67 250.86 252.59 256.01 259.43 262.84 266.48 268.49 269.99 273.12" y="7.20" font-size="6.35" fill="#000000">very negative</text>
<rect x="320.60" y="2.6" width="12.2" height="4.7" fill="#feae53" stroke="#fff" stroke-width="1"/>
<text transform="scale(1.1123,1)" x="303.49 306.92 310.35 313.78 317.43 319.44 320.95 324.09" y="7.20" font-size="6.35" fill="#000000">negative</text>
<rect x="376.70" y="2.6" width="12.2" height="4.7" fill="#a4a4a4" stroke="#fff" stroke-width="1"/>
<text transform="scale(1.1248,1)" x="349.89 353.29 356.68 360.35 362.36 364.43 367.91" y="7.20" font-size="6.35" fill="#000000">neutral</text>
<rect x="427.70" y="2.6" width="12.2" height="4.7" fill="#d3d3d3" stroke="#fff" stroke-width="1"/>
<text transform="scale(1.1041,1)" x="402.64 408.05 409.57 412.73 416.02" y="7.20" font-size="6.35" fill="#000000">mixed</text>
<rect x="475.70" y="2.6" width="12.2" height="4.7" fill="#73da73" stroke="#fff" stroke-width="1"/>
<text transform="scale(1.1123,1)" x="442.83 446.26 449.55 452.62 454.29 456.30 457.81 460.94" y="7.20" font-size="6.35" fill="#000000">positive</text>
<rect x="528.90" y="2.6" width="12.2" height="4.7" fill="#4f9451" stroke="#fff" stroke-width="1"/>
<text transform="scale(1.1160,1)" x="489.30 492.42 495.94 498.15 501.35 503.07 506.49 509.77 512.84 514.49 516.50 518.00 521.13" y="7.20" font-size="6.35" fill="#000000">very positive</text>
</svg>
</body></html>
